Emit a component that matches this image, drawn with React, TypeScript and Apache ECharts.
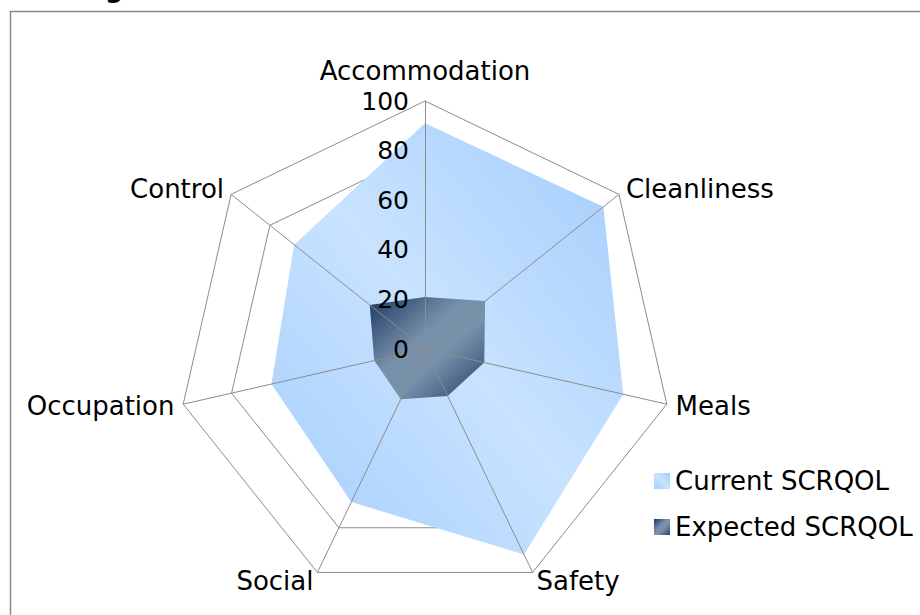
import React, { useEffect, useRef } from 'react';
import * as echarts from 'echarts';

// ---- data ----
const categories = ['Accommodation', 'Cleanliness', 'Meals', 'Safety', 'Social', 'Occupation', 'Control'];
const currentValues = [91, 92, 82, 92, 68.5, 63.5, 67.5];
const expectedValues = [21, 31, 24.5, 21, 22.5, 21, 28.5];
const seriesNames = ['Current SCRQOL', 'Expected SCRQOL'];
const axisMin = 0;
const axisMax = 100;
const splitCount = 5; // ticks 0,20,40,60,80,100

const FONT = 'DejaVu Sans';
const GRID = '#8c8c8c';

// ECharts lays indicators out counter-clockwise; the reference runs clockwise.
const order = [0, ...categories.slice(1).map((_, i) => categories.length - 1 - i)];

const currentGrad = () =>
  new echarts.graphic.LinearGradient(1, 0, 0, 1, [
    { offset: 0, color: '#a2ccfc' },
    { offset: 0.5, color: '#c8e3ff' },
    { offset: 1, color: '#a4cdfd' },
  ]);
const expectedGrad = () =>
  new echarts.graphic.LinearGradient(0, 0, 1, 1, [
    { offset: 0, color: '#1e3762' },
    { offset: 0.42, color: '#7791ab' },
    { offset: 0.6, color: '#7791ab' },
    { offset: 1, color: '#253f69' },
  ]);

export default function App() {
  const ref = useRef<HTMLDivElement>(null);

  useEffect(() => {
    if (!ref.current) return;
    const chart = echarts.init(ref.current, null, { renderer: 'svg' });

    const baseIndicators = order.map((i) => ({ name: categories[i], min: axisMin, max: axisMax }));
    const topIndicators = order.map((i, k) => ({
      name: categories[i],
      min: axisMin,
      max: axisMax,
      nameGap: k === 0 ? 17 : 9,
      axisLabel: k === 0 ? { show: true } : { show: false },
    }));

    const common = {
      center: [425, 349],
      radius: 248,
      startAngle: 90,
      splitNumber: splitCount,
      shape: 'polygon' as const,
    };

    chart.setOption({
      animation: false,
      backgroundColor: '#ffffff',
      graphic: [
        {
          type: 'rect',
          z: 0,
          silent: true,
          shape: { x: 10.5, y: 11.5, width: 1000, height: 1000 },
          style: { fill: 'none', stroke: '#8a8a8a', lineWidth: 1.5 },
        },
        {
          type: 'text',
          z: 0,
          silent: true,
          x: 105,
          y: 1,
          style: {
            text: 'g',
            fill: '#000',
            font: `bold 26px "${FONT}"`,
            verticalAlign: 'bottom',
          },
        },
      ],
      legend: {
        orient: 'vertical',
        left: 649,
        top: 463,
        itemWidth: 16,
        itemHeight: 16,
        itemGap: 20,
        icon: 'rect',
        selectedMode: false,
        textStyle: { fontSize: 26, fontFamily: FONT, color: '#000' },
        data: [
          { name: seriesNames[0], itemStyle: { color: currentGrad() } },
          { name: seriesNames[1], itemStyle: { color: expectedGrad() } },
        ],
      },
      radar: [
        {
          ...common,
          z: 0,
          indicator: baseIndicators,
          axisName: { show: false },
          axisLine: { show: false },
          axisTick: { show: false },
          axisLabel: { show: false },
          splitArea: { show: false },
          splitLine: { show: true, lineStyle: { color: GRID, width: 1 } },
        },
        {
          ...common,
          z: 5,
          indicator: topIndicators,
          axisName: { show: true, color: '#000', fontSize: 26, fontFamily: FONT },
          axisLine: { show: true, lineStyle: { color: GRID, width: 1 } },
          axisTick: { show: false },
          axisLabel: { show: false, color: '#000', fontSize: 25, fontFamily: FONT, margin: 16 },
          splitArea: { show: false },
          splitLine: { show: false },
        },
      ],
      series: [
        {
          type: 'radar',
          radarIndex: 0,
          z: 2,
          symbol: 'none',
          data: [
            {
              name: seriesNames[0],
              value: order.map((i) => currentValues[i]),
              itemStyle: { color: currentGrad() },
              lineStyle: { width: 0, opacity: 0 },
              areaStyle: { color: currentGrad(), opacity: 1 },
            },
            {
              name: seriesNames[1],
              value: order.map((i) => expectedValues[i]),
              itemStyle: { color: expectedGrad() },
              lineStyle: { width: 0, opacity: 0 },
              areaStyle: { color: expectedGrad(), opacity: 1 },
            },
          ],
        },
      ],
    });

    return () => chart.dispose();
  }, []);

  return (
    <div
      ref={ref}
      style={{ position: 'fixed', left: 0, top: 0, width: 920, height: 615, background: '#fff' }}
    />
  );
}
